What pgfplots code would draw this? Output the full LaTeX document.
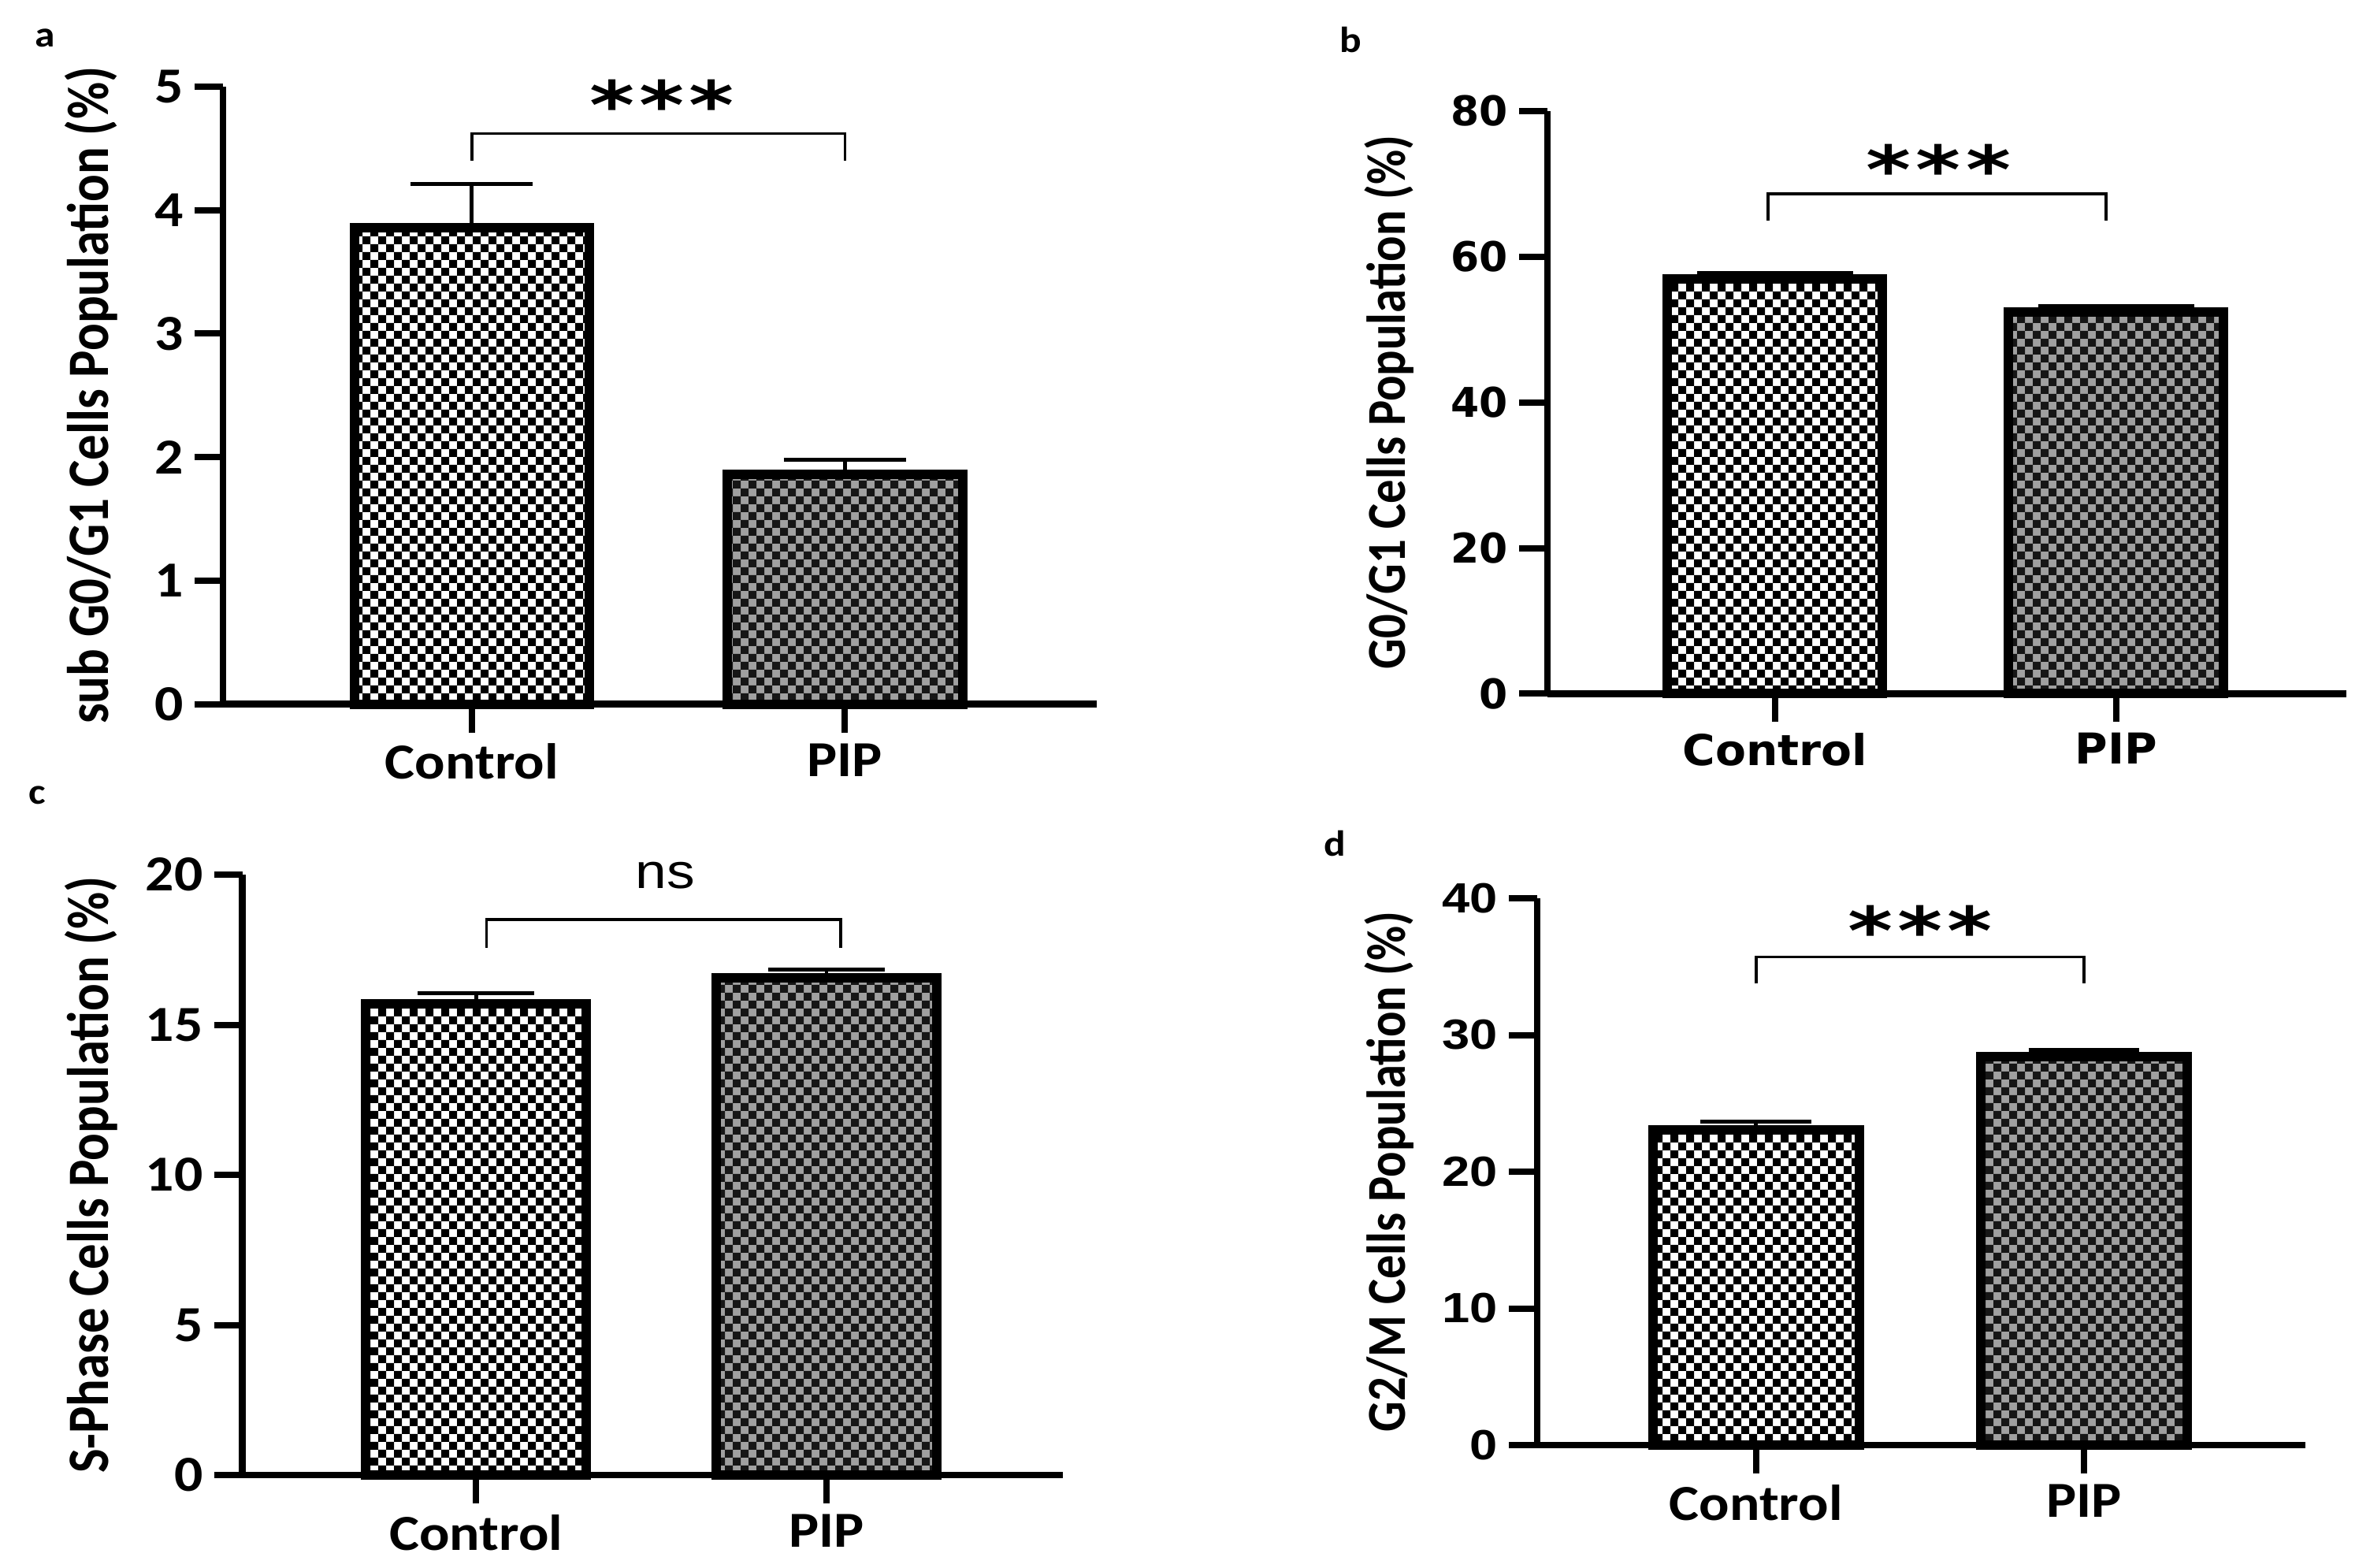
\documentclass[border=0pt]{standalone}
\usepackage{fontspec}
\usepackage{pgfplots}
\pgfplotsset{compat=1.18}
\usetikzlibrary{patterns}
\newfontfamily\carS{Carlito}[FakeStretch=1.12]
\newfontfamily\carL{Carlito}[FakeStretch=0.87]
\newfontfamily\libS{Liberation Sans}[FakeStretch=1.18]
\newfontfamily\libN{Liberation Sans}[FakeStretch=1.15]
\newfontfamily\dej{DejaVu Sans}
\newfontfamily\dejS{DejaVu Sans}[FakeStretch=1.05]
\newfontfamily\dejStar{DejaVu Sans}[FakeStretch=1.3]
\definecolor{pipgray}{RGB}{160,160,160}
\definecolor{pipdark}{RGB}{22,22,22}
\pgfdeclarepatternformonly{ckb}{\pgfqpoint{-0.1pt}{-0.1pt}}{\pgfqpoint{5.1pt}{5.1pt}}{\pgfqpoint{5pt}{5pt}}{%
  \pgfpathrectangle{\pgfqpoint{0pt}{0pt}}{\pgfqpoint{2.55pt}{2.55pt}}%
  \pgfpathrectangle{\pgfqpoint{2.5pt}{2.5pt}}{\pgfqpoint{2.55pt}{2.55pt}}%
  \pgfusepath{fill}}
\newcommand\tickA{\carS\bfseries\fontsize{16}{18}\selectfont}
\newcommand\labA{\carL\bfseries\fontsize{18.6}{20}\selectfont}
\newcommand\labB{\carL\bfseries\fontsize{17.4}{20}\selectfont}
\newcommand\tickB{\dej\bfseries\fontsize{13}{15}\selectfont}
\newcommand\xlabB{\dejS\bfseries\fontsize{13.5}{15}\selectfont}
\newcommand\tickD{\libS\bfseries\fontsize{13.4}{15}\selectfont}
\newcommand\starfont{\dejStar\bfseries\fontsize{21}{23}\selectfont}
\newcommand\nsfont{\libN\fontsize{15.5}{17}\selectfont}
\newcommand\letterfont{\carS\bfseries\fontsize{11.5}{13}\selectfont}
\pgfplotsset{
  panel/.style={
    scale only axis, clip=false, anchor=south west,
    axis lines*=left, axis line style={line width=2.2pt,-},
    tick align=outside, major tick length=9pt,
    tick style={line width=2pt,black},
    xmin=-0.667, xmax=1.675, ymin=0,
    xtick={0,1}, xticklabels={Control,PIP},
    ybar, bar width=0.63, bar shift=0pt,
    /pgf/number format/assume math mode=true,
  },
  ctrl/.style={draw=black, line width=3pt, preaction={fill=white}, pattern=ckb, pattern color=black,
    error bars/.cd, y dir=plus, y explicit, error mark=|,
    error bar style={line width=1.2pt,black,solid},
    error mark options={line width=1.2pt,black,mark size=#1}},
  pip/.style={draw=black, line width=3pt, preaction={fill=pipgray}, pattern=ckb, pattern color=pipdark,
    error bars/.cd, y dir=plus, y explicit, error mark=|,
    error bar style={line width=1.2pt,black,solid},
    error mark options={line width=1.2pt,black,mark size=#1}},
}
\begin{document}
\begin{tikzpicture}
\path[use as bounding box] (0,0) rectangle (752pt,-497.5pt);
% panel letters
\node[anchor=base west,font=\letterfont,inner sep=0pt] at (11pt,-15pt) {a};
\node[anchor=base west,font=\letterfont,inner sep=0pt] at (425pt,-16.6pt) {b};
\node[anchor=base west,font=\letterfont,inner sep=0pt] at (9pt,-255pt) {c};
\node[anchor=base west,font=\letterfont,inner sep=0pt] at (420pt,-271.6pt) {d};
% ---------- a
\begin{axis}[panel, at={(70.75pt,-223.4pt)}, width=277.25pt, height=195.9pt,
  ymax=5, ytick={0,1,2,3,4,5},
  yticklabel style={font=\tickA}, xticklabel style={font=\tickA},
  ylabel={sub G0/G1 Cells Population (\%)},
  ylabel style={at={([xshift=-41.75pt]axis description cs:0,0.5)}, anchor=center, font=\labA}]
\addplot[ctrl=19.4pt] coordinates {(0,3.86) +- (0,0.35)};
\addplot[pip=19.4pt] coordinates {(1,1.86) +- (0,0.12)};
\draw[line width=0.9pt] (axis cs:0,4.40) |- (axis cs:1,4.62) -- (axis cs:1,4.40);
\node[anchor=base,font=\starfont,inner sep=0pt] at ([yshift=-11.3pt]axis cs:0.51,4.95) {*\kern1.5pt*\kern1.5pt*};
\end{axis}
% ---------- b
\begin{axis}[panel, at={(491pt,-220.1pt)}, width=253.5pt, height=184.9pt,
  ymax=80, ytick={0,20,40,60,80},
  yticklabel style={font=\tickB}, xticklabel style={font=\xlabB},
  ylabel={G0/G1 Cells Population (\%)},
  ylabel style={at={([xshift=-50.2pt]axis description cs:0,0.5)}, anchor=center, font=\labB}]
\addplot[ctrl=24.7pt] coordinates {(0,56.9) +- (0,0.9)};
\addplot[pip=24.7pt] coordinates {(1,52.4) +- (0,0.8)};
\draw[line width=0.9pt] (axis cs:-0.02,64.9) |- (axis cs:0.97,68.6) -- (axis cs:0.97,64.9);
\node[anchor=base,font=\starfont,inner sep=0pt] at ([yshift=-11.3pt]axis cs:0.48,73.6) {*\kern1.5pt*\kern1.5pt*};
\end{axis}
% ---------- c
\begin{axis}[panel, at={(76.9pt,-468pt)}, width=260.4pt, height=190.5pt,
  ymax=20, ytick={0,5,10,15,20},
  yticklabel style={font=\tickA}, xticklabel style={font=\tickA},
  ylabel={S-Phase Cells Population (\%)},
  ylabel style={at={([xshift=-47.9pt]axis description cs:0,0.5)}, anchor=center, font=\labA}]
\addplot[ctrl=18.5pt] coordinates {(0,15.7) +- (0,0.34)};
\addplot[pip=18.5pt] coordinates {(1,16.55) +- (0,0.28)};
\draw[line width=0.9pt] (axis cs:0.03,17.57) |- (axis cs:1.04,18.5) -- (axis cs:1.04,17.57);
\node[anchor=base,font=\nsfont,inner sep=0pt] at ([yshift=-4pt]axis cs:0.54,19.95) {ns};
\end{axis}
% ---------- d
\begin{axis}[panel, at={(487.75pt,-458.5pt)}, width=243.75pt, height=173.5pt,
  ymax=40, ytick={0,10,20,30,40},
  yticklabel style={font=\tickD}, xticklabel style={font=\tickA},
  ylabel={G2/M Cells Population (\%)},
  ylabel style={at={([xshift=-47pt]axis description cs:0,0.5)}, anchor=center, font=\labB}]
\addplot[ctrl=17.6pt] coordinates {(0,23.05) +- (0,0.6)};
\addplot[pip=17.6pt] coordinates {(1,28.4) +- (0,0.52)};
\draw[line width=0.9pt] (axis cs:0,33.76) |- (axis cs:1,35.7) -- (axis cs:1,33.76);
\node[anchor=base,font=\starfont,inner sep=0pt] at ([yshift=-11.3pt]axis cs:0.5,38.5) {*\kern1.5pt*\kern1.5pt*};
\end{axis}
\end{tikzpicture}
\end{document}
